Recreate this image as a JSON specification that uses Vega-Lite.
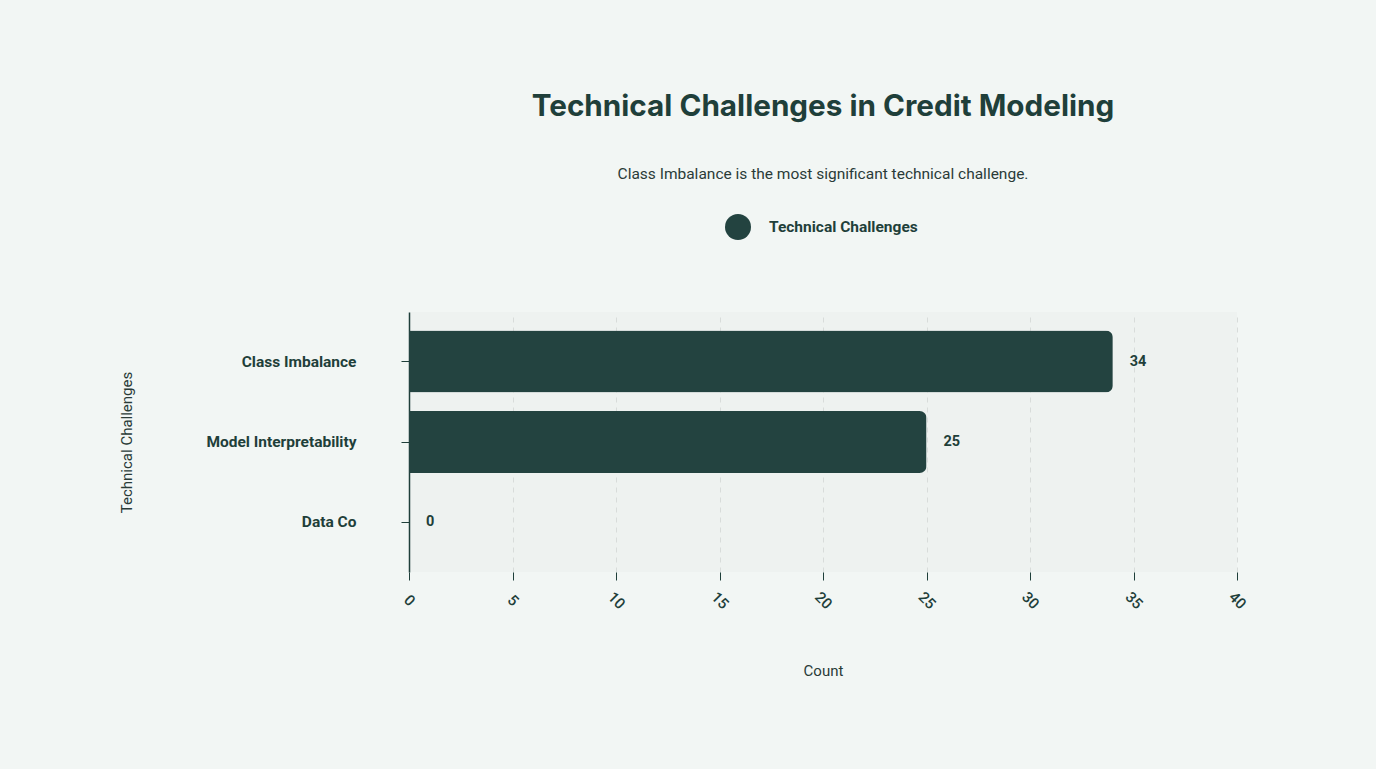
{
  "$schema": "https://vega.github.io/schema/vega-lite/v6.json",
  "autosize": {"type": "none"},
  "width": 828,
  "height": 260,
  "padding": {"left": 409, "top": 312, "right": 139, "bottom": 197},
  "background": "#f2f6f4",
  "title": {
    "text": "Technical Challenges in Credit Modeling",
    "subtitle": "Class Imbalance is the most significant technical challenge.",
    "anchor": "middle",
    "font": "Inter",
    "fontSize": 29.7,
    "fontWeight": "bold",
    "color": "#1f3f3a",
    "subtitleFont": "Roboto",
    "subtitleFontSize": 15.5,
    "subtitleColor": "#2a3b38",
    "subtitlePadding": 44,
    "offset": 30
  },
  "data": {
    "values": [
      {"challenge": "Class Imbalance", "count": 34, "series": "Technical Challenges"},
      {"challenge": "Model Interpretability", "count": 25, "series": "Technical Challenges"},
      {"challenge": "Data Co", "count": 0, "series": "Technical Challenges"}
    ]
  },
  "encoding": {
    "y": {
      "field": "challenge",
      "type": "nominal",
      "sort": null,
      "scale": {"paddingInner": 0.23, "paddingOuter": 0.23},
      "axis": {
        "title": "Technical Challenges",
        "titleFont": "Roboto",
        "titleFontSize": 15,
        "titleFontWeight": "normal",
        "titleColor": "#2a3b38",
        "titleX": -283,
        "titleY": 130,
        "titleAlign": "center",
        "titleBaseline": "middle",
        "labelFont": "Roboto",
        "labelFontSize": 15.5,
        "labelFontWeight": "bold",
        "labelColor": "#1f3f3a",
        "labelPadding": 45,
        "tickSize": 8,
        "tickColor": "#1f3f3a",
        "domainColor": "#1f3f3a",
        "domainWidth": 1.5,
        "grid": false
      }
    },
    "x": {
      "field": "count",
      "type": "quantitative",
      "scale": {"domain": [0, 40]},
      "axis": {
        "title": "Count",
        "titleFont": "Roboto",
        "titleFontSize": 15,
        "titleFontWeight": "normal",
        "titleColor": "#2a3b38",
        "titleY": 98,
        "titleBaseline": "middle",
        "values": [0, 5, 10, 15, 20, 25, 30, 35, 40],
        "labelAngle": 45,
        "labelAlign": "center",
        "labelBaseline": "middle",
        "labelPadding": 20,
        "labelFont": "Roboto",
        "labelFontSize": 15,
        "labelFontWeight": 500,
        "labelColor": "#1f3f3a",
        "tickSize": 8,
        "tickColor": "#1f3f3a",
        "domain": false,
        "grid": true,
        "gridDash": [5, 5],
        "gridColor": "#d8dcda",
        "gridWidth": 1
      }
    }
  },
  "layer": [
    {
      "mark": {"type": "bar", "cornerRadiusEnd": 7},
      "encoding": {
        "color": {
          "field": "series",
          "type": "nominal",
          "scale": {"range": ["#234340"]},
          "legend": {
            "title": null,
            "orient": "none",
            "legendX": 315,
            "legendY": -99,
            "symbolType": "circle",
            "symbolSize": 676,
            "symbolOpacity": 1,
            "labelFont": "Roboto",
            "labelFontSize": 15.5,
            "labelFontWeight": "bold",
            "labelColor": "#1f3f3a",
            "labelOffset": 17
          }
        }
      }
    },
    {
      "mark": {
        "type": "text",
        "align": "left",
        "baseline": "middle",
        "dx": 17,
        "font": "Roboto",
        "fontSize": 14.5,
        "fontWeight": "bold",
        "color": "#1f3f3a"
      },
      "encoding": {"text": {"field": "count", "type": "quantitative"}}
    }
  ],
  "config": {
    "view": {"fill": "#eef2f0", "stroke": null}
  }
}
